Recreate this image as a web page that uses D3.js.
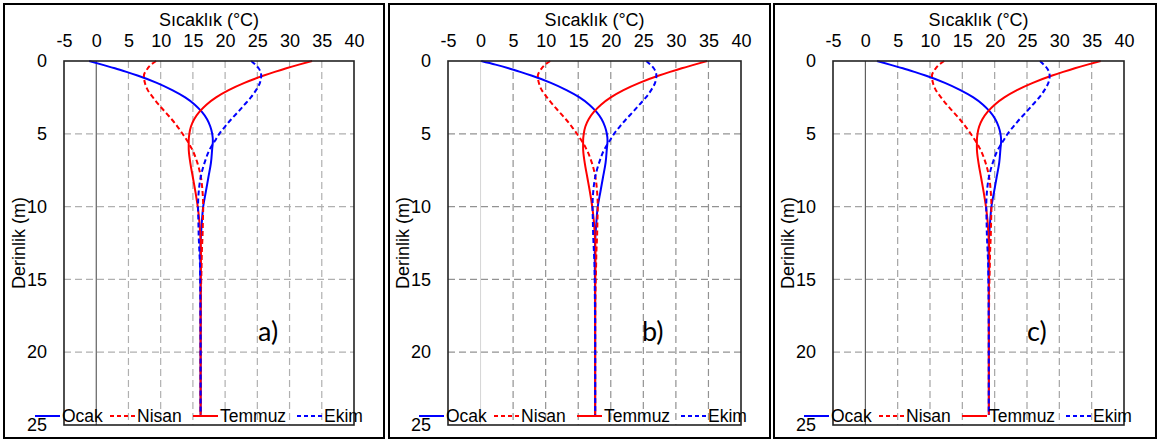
<!DOCTYPE html>
<html>
<head>
<meta charset="utf-8">
<script src="https://cdn.jsdelivr.net/npm/d3@7"></script>
<style>
body { margin: 0; background: #fff; }
svg text { font-family: 'Liberation Sans', Arial, sans-serif; fill: #000; }
</style>
</head>
<body>
<svg id="chart" width="1160" height="440"></svg>
<script>
// depth (m) of every sample point, same for all curves
const depths = [0, 0.25, 0.5, 0.75, 1, 1.5, 2, 2.5, 3, 3.5, 4, 4.5, 5, 5.5, 6, 7, 8, 9, 10, 11, 12, 13, 14, 16, 20, 24.3];

// panel a
const ocakA   = [-1.1, 0.9, 2.9, 4.7, 6.4, 9.4, 11.8, 13.8, 15.3, 16.4, 17.2, 17.7, 18.0, 18.1, 18.0, 17.8, 17.4, 17.0, 16.6, 16.4, 16.25, 16.15, 16.15, 16.2, 16.2, 16.2];
const nisanA  = [9.3, 8.5, 8.0, 7.6, 7.4, 7.55, 8.0, 8.8, 9.7, 10.7, 11.7, 12.6, 13.4, 14.15, 14.8, 15.7, 16.25, 16.5, 16.6, 16.55, 16.5, 16.4, 16.35, 16.25, 16.2, 16.2];
const temmuzA = [33.5, 31.45, 29.5, 27.7, 26.0, 23.0, 20.55, 18.6, 17.1, 16.0, 15.2, 14.7, 14.45, 14.35, 14.35, 14.6, 15.0, 15.4, 15.75, 16.0, 16.15, 16.25, 16.25, 16.2, 16.2, 16.2];
const ekimA   = [24.05, 24.7, 25.2, 25.5, 25.6, 25.4, 24.8, 24.0, 23.0, 22.0, 20.95, 20.0, 19.1, 18.4, 17.7, 16.8, 16.2, 15.9, 15.8, 15.85, 15.9, 16.0, 16.1, 16.15, 16.2, 16.2];

// panel b
const ocakB   = [0.1, 2.3, 4.3, 6.1, 7.8, 10.8, 13.2, 15.2, 16.7, 17.8, 18.6, 19.1, 19.4, 19.5, 19.4, 19.2, 18.8, 18.4, 18.0, 17.8, 17.65, 17.55, 17.55, 17.6, 17.6, 17.6];
const nisanB  = [10.7, 9.9, 9.4, 9.0, 8.8, 8.95, 9.4, 10.2, 11.1, 12.1, 13.1, 14.0, 14.8, 15.55, 16.2, 17.1, 17.65, 17.9, 18.0, 17.95, 17.9, 17.8, 17.75, 17.65, 17.6, 17.6];
const temmuzB = [34.8, 32.85, 30.9, 29.1, 27.4, 24.4, 21.95, 20.0, 18.5, 17.4, 16.6, 16.1, 15.85, 15.75, 15.75, 16.0, 16.4, 16.8, 17.15, 17.4, 17.55, 17.65, 17.65, 17.6, 17.6, 17.6];
const ekimB   = [25.45, 26.1, 26.6, 26.9, 27.0, 26.8, 26.2, 25.4, 24.4, 23.4, 22.35, 21.4, 20.5, 19.8, 19.1, 18.2, 17.6, 17.3, 17.2, 17.25, 17.3, 17.4, 17.5, 17.55, 17.6, 17.6];

// panel c
const ocakC   = [1.8, 3.8, 5.8, 7.6, 9.3, 12.3, 14.7, 16.7, 18.2, 19.3, 20.1, 20.6, 20.9, 21.0, 20.9, 20.7, 20.3, 19.9, 19.5, 19.3, 19.15, 19.05, 19.05, 19.1, 19.1, 19.1];
const nisanC  = [12.2, 11.4, 10.9, 10.5, 10.3, 10.45, 10.9, 11.7, 12.6, 13.6, 14.6, 15.5, 16.3, 17.05, 17.7, 18.6, 19.15, 19.4, 19.5, 19.45, 19.4, 19.3, 19.25, 19.15, 19.1, 19.1];
const temmuzC = [36.4, 34.35, 32.4, 30.6, 28.9, 25.9, 23.45, 21.5, 20.0, 18.9, 18.1, 17.6, 17.35, 17.25, 17.25, 17.5, 17.9, 18.3, 18.65, 18.9, 19.05, 19.15, 19.15, 19.1, 19.1, 19.1];
const ekimC   = [27.0, 27.6, 28.1, 28.4, 28.5, 28.3, 27.7, 26.9, 25.9, 24.9, 23.85, 22.9, 22.0, 21.3, 20.6, 19.7, 19.1, 18.8, 18.7, 18.75, 18.8, 18.9, 19.0, 19.05, 19.1, 19.1];

const seriesNames = ['Ocak', 'Nisan', 'Temmuz', 'Ekim'];
const panelLabels = ['a)', 'b)', 'c)'];
const tempTicks = [-5, 0, 5, 10, 15, 20, 25, 30, 35, 40];
const depthTicks = [0, 5, 10, 15, 20, 25];

const panelSeries = [
    [ocakA, nisanA, temmuzA, ekimA],
    [ocakB, nisanB, temmuzB, ekimB],
    [ocakC, nisanC, temmuzC, ekimC]
];

// layout of the three boxes
let panels = [
    {frameX: 4, frameW: 380, left: 64, right: 354, grid: '#b0b0b0', zero: '#404040'},
    {frameX: 389, frameW: 381, left: 448, right: 741, grid: '#929292', zero: '#d6d6d6'},
    {frameX: 774, frameW: 382, left: 833, right: 1124, grid: '#a4a4a4', zero: '#404040'}
];
let plotTop = 61, plotBottom = 425;
let lineStyles = [
    {color: '#0000ff', dash: null},
    {color: '#ff0000', dash: '5,3'},
    {color: '#ff0000', dash: null},
    {color: '#0000ff', dash: '5,3'}
];
let legendOffsets = [-29, 46, 129, 233];

let svg = d3.select('#chart');

panels.forEach(function(p, k) {
    let g = svg.append('g').attr('class', 'panel');

    g.append('rect')
        .attr('x', p.frameX)
        .attr('y', 4)
        .attr('width', p.frameW)
        .attr('height', 434)
        .attr('fill', 'none')
        .attr('stroke', '#000')
        .attr('stroke-width', 2);

    let x = d3.scaleLinear().domain([-5, 40]).range([p.left, p.right]);
    let y = d3.scaleLinear().domain([0, 25]).range([plotTop, plotBottom]);

    // grid
    g.selectAll('line.vgrid')
        .data(tempTicks.filter(t => t > -5 && t < 40 && t !== 0))
        .enter()
        .append('line')
        .attr('class', 'vgrid')
        .attr('x1', d => x(d)).attr('x2', d => x(d))
        .attr('y1', plotTop).attr('y2', plotBottom)
        .attr('stroke', p.grid)
        .attr('stroke-width', 1.2)
        .attr('stroke-dasharray', '7,4');
    g.selectAll('line.hgrid')
        .data(depthTicks.filter(t => t > 0 && t < 25))
        .enter()
        .append('line')
        .attr('class', 'hgrid')
        .attr('x1', p.left).attr('x2', p.right)
        .attr('y1', d => y(d)).attr('y2', d => y(d))
        .attr('stroke', p.grid)
        .attr('stroke-width', 1.2)
        .attr('stroke-dasharray', '7,4');
    g.append('line')
        .attr('x1', x(0)).attr('x2', x(0))
        .attr('y1', plotTop).attr('y2', plotBottom)
        .attr('stroke', p.zero)
        .attr('stroke-width', 1);

    // curves
    let line = d3.line()
        .x(d => x(d[1]))
        .y(d => y(d[0]))
        .curve(d3.curveMonotoneY);
    panelSeries[k].forEach(function(vals, i) {
        g.append('path')
            .datum(depths.map((z, j) => [z, vals[j]]))
            .attr('fill', 'none')
            .attr('stroke', lineStyles[i].color)
            .attr('stroke-width', 2)
            .attr('stroke-dasharray', lineStyles[i].dash)
            .attr('d', line);
    });

    g.append('rect')
        .attr('x', p.left).attr('y', plotTop)
        .attr('width', p.right - p.left).attr('height', plotBottom - plotTop)
        .attr('fill', 'none')
        .attr('stroke', '#222')
        .attr('stroke-width', 1.6);

    // axes (plain hyphen for negatives, as in the original)
    let xAxis = g.append('g')
        .attr('transform', 'translate(0,' + plotTop + ')')
        .call(d3.axisTop(x).tickValues(tempTicks).tickFormat(d => String(d)).tickSize(0).tickPadding(14));
    let yAxis = g.append('g')
        .attr('transform', 'translate(' + p.left + ',0)')
        .call(d3.axisLeft(y).tickValues(depthTicks).tickFormat(d => String(d)).tickSize(0).tickPadding(17));
    [xAxis, yAxis].forEach(function(a) {
        a.select('.domain').remove();
        a.selectAll('text')
            .style('font-size', '18px')
            .style('font-family', "'Liberation Sans', Arial, sans-serif")
            .attr('fill', '#000');
    });

    g.append('text')
        .attr('x', (p.left + p.right) / 2)
        .attr('y', 26)
        .attr('text-anchor', 'middle')
        .style('font-size', '18px')
        .text('Sıcaklık (°C)');
    g.append('text')
        .attr('transform', 'translate(' + (p.left - 39) + ',' + ((plotTop + plotBottom) / 2) + ') rotate(-90)')
        .attr('text-anchor', 'middle')
        .style('font-size', '18px')
        .text('Derinlik (m)');

    g.append('text')
        .attr('x', p.left + 194)
        .attr('y', 341)
        .style('font-family', "Lato, 'Open Sans', sans-serif")
        .style('font-size', '27px')
        .text(panelLabels[k]);

    // legend
    let legend = g.append('g').attr('transform', 'translate(' + p.left + ',416)');
    seriesNames.forEach(function(name, i) {
        legend.append('line')
            .attr('x1', legendOffsets[i]).attr('x2', legendOffsets[i] + 25)
            .attr('y1', 0).attr('y2', 0)
            .attr('stroke', lineStyles[i].color)
            .attr('stroke-width', 2)
            .attr('stroke-dasharray', lineStyles[i].dash ? '4,3' : null);
        legend.append('text')
            .attr('x', legendOffsets[i] + 27)
            .attr('y', 0)
            .attr('dy', '0.36em')
            .style('font-size', '17.5px')
            .text(name);
    });
});
</script>
</body>
</html>
